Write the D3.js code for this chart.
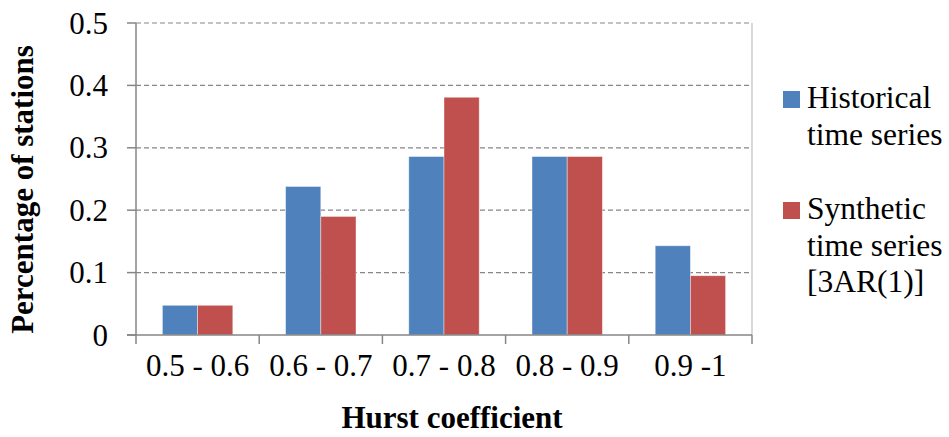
<!DOCTYPE html>
<html lang="en">
<head>
    <meta charset="UTF-8">
    <title>Hurst coefficient</title>
    <script src="https://d3js.org/d3.v7.min.js"></script>
    <style>
        body { margin: 0; background: #fff; }
        svg text { font-family: "Liberation Serif", "Times New Roman", serif; fill: #000; }
    </style>
</head>
<body>
    <svg width="949" height="437" id="chart"></svg>
    <script>
        // data
        const categories = ["0.5 - 0.6", "0.6 - 0.7", "0.7 - 0.8", "0.8 - 0.9", "0.9 -1"];
        const seriesNames = ["Historical time series", "Synthetic time series [3AR(1)]"];
        const historical = [0.0476, 0.238, 0.286, 0.286, 0.143];
        const synthetic = [0.0476, 0.190, 0.381, 0.286, 0.095];
        const yTicks = [0, 0.1, 0.2, 0.3, 0.4, 0.5];
        const colors = ["#4F81BD", "#C0504D"];

        const svg = d3.select("#chart");
        const plotLeft = 136, plotRight = 752, plotTop = 23, plotBottom = 335;

        const x = d3.scaleBand().domain(categories).range([plotLeft, plotRight]);
        const inner = d3.scaleBand().domain([0, 1]).range([0, x.bandwidth()]).paddingInner(0).paddingOuter(0.75);
        const y = d3.scaleLinear().domain([0, 0.5]).range([plotBottom, plotTop]);

        // gridlines
        svg.append("g")
            .selectAll("line")
            .data(yTicks.filter(d => d > 0))
            .enter().append("line")
            .attr("x1", plotLeft).attr("x2", plotRight)
            .attr("y1", d => y(d)).attr("y2", d => y(d))
            .attr("stroke", "#868686")
            .attr("stroke-width", 1.2)
            .attr("stroke-dasharray", "5,3");

        // right border of plot area
        svg.append("line")
            .attr("x1", plotRight).attr("x2", plotRight)
            .attr("y1", plotTop).attr("y2", plotBottom)
            .attr("stroke", "#bfbfbf").attr("stroke-width", 1.2);

        // bars
        const rows = categories.map((c, i) => ({ c, vals: [historical[i], synthetic[i]] }));
        const groups = svg.append("g").selectAll("g")
            .data(rows)
            .enter().append("g")
            .attr("transform", d => `translate(${x(d.c)},0)`);

        groups.selectAll("rect")
            .data(d => d.vals.map((v, k) => ({ v, k })))
            .enter().append("rect")
            .attr("x", d => inner(d.k))
            .attr("width", inner.bandwidth())
            .attr("y", d => y(d.v))
            .attr("height", d => y(0) - y(d.v))
            .attr("fill", d => colors[d.k])
            .attr("stroke", "#ffffff")
            .attr("stroke-opacity", 0.5)
            .attr("stroke-width", 0.8);

        // y axis
        const yAxis = svg.append("g");
        yAxis.append("line")
            .attr("x1", plotLeft).attr("x2", plotLeft)
            .attr("y1", plotTop).attr("y2", plotBottom)
            .attr("stroke", "#868686").attr("stroke-width", 1.5);
        yAxis.selectAll("line.tick")
            .data(yTicks)
            .enter().append("line")
            .attr("class", "tick")
            .attr("x1", plotLeft - 9).attr("x2", plotLeft)
            .attr("y1", d => y(d)).attr("y2", d => y(d))
            .attr("stroke", "#868686").attr("stroke-width", 1.5);
        yAxis.selectAll("text")
            .data(yTicks)
            .enter().append("text")
            .attr("x", 108)
            .attr("y", d => y(d) + 10.5)
            .attr("text-anchor", "end")
            .attr("font-size", "31px")
            .text(d => d === 0 ? "0" : d.toFixed(1));

        // x axis
        const xAxis = svg.append("g");
        xAxis.append("line")
            .attr("x1", plotLeft - 9).attr("x2", plotRight)
            .attr("y1", plotBottom).attr("y2", plotBottom)
            .attr("stroke", "#868686").attr("stroke-width", 1.5);
        const bounds = categories.map(c => x(c)).concat([plotRight]);
        xAxis.selectAll("line.tick")
            .data(bounds)
            .enter().append("line")
            .attr("class", "tick")
            .attr("x1", d => d).attr("x2", d => d)
            .attr("y1", plotBottom).attr("y2", plotBottom + 9)
            .attr("stroke", "#868686").attr("stroke-width", 1.5);
        xAxis.selectAll("text")
            .data(categories)
            .enter().append("text")
            .attr("x", d => x(d) + x.bandwidth() / 2)
            .attr("y", 376)
            .attr("text-anchor", "middle")
            .attr("font-size", "31px")
            .text(d => d);

        // axis titles
        svg.append("text")
            .attr("x", 452)
            .attr("y", 428)
            .attr("text-anchor", "middle")
            .attr("font-size", "31px")
            .attr("font-weight", "bold")
            .text("Hurst coefficient");

        svg.append("text")
            .attr("transform", `translate(33,${(42 + 337) / 2}) rotate(-90)`)
            .attr("text-anchor", "middle")
            .attr("font-size", "31px")
            .attr("font-weight", "bold")
            .text("Percentage of stations");

        // legend
        const legendLines = [["Historical", "time series"], ["Synthetic", "time series", "[3AR(1)]"]];
        const legendBase = [108, 219];
        const legend = svg.append("g");
        legendLines.forEach((lines, i) => {
            legend.append("rect")
                .attr("x", 783).attr("y", legendBase[i] - 17)
                .attr("width", 17).attr("height", 17)
                .attr("fill", colors[i]);
            const t = legend.append("text")
                .attr("x", 807)
                .attr("y", legendBase[i])
                .attr("font-size", "31.5px");
            t.selectAll("tspan")
                .data(lines)
                .enter().append("tspan")
                .attr("x", 807)
                .attr("dy", (d, j) => j === 0 ? 0 : 36.5)
                .text(d => d);
        });
    </script>
</body>
</html>
